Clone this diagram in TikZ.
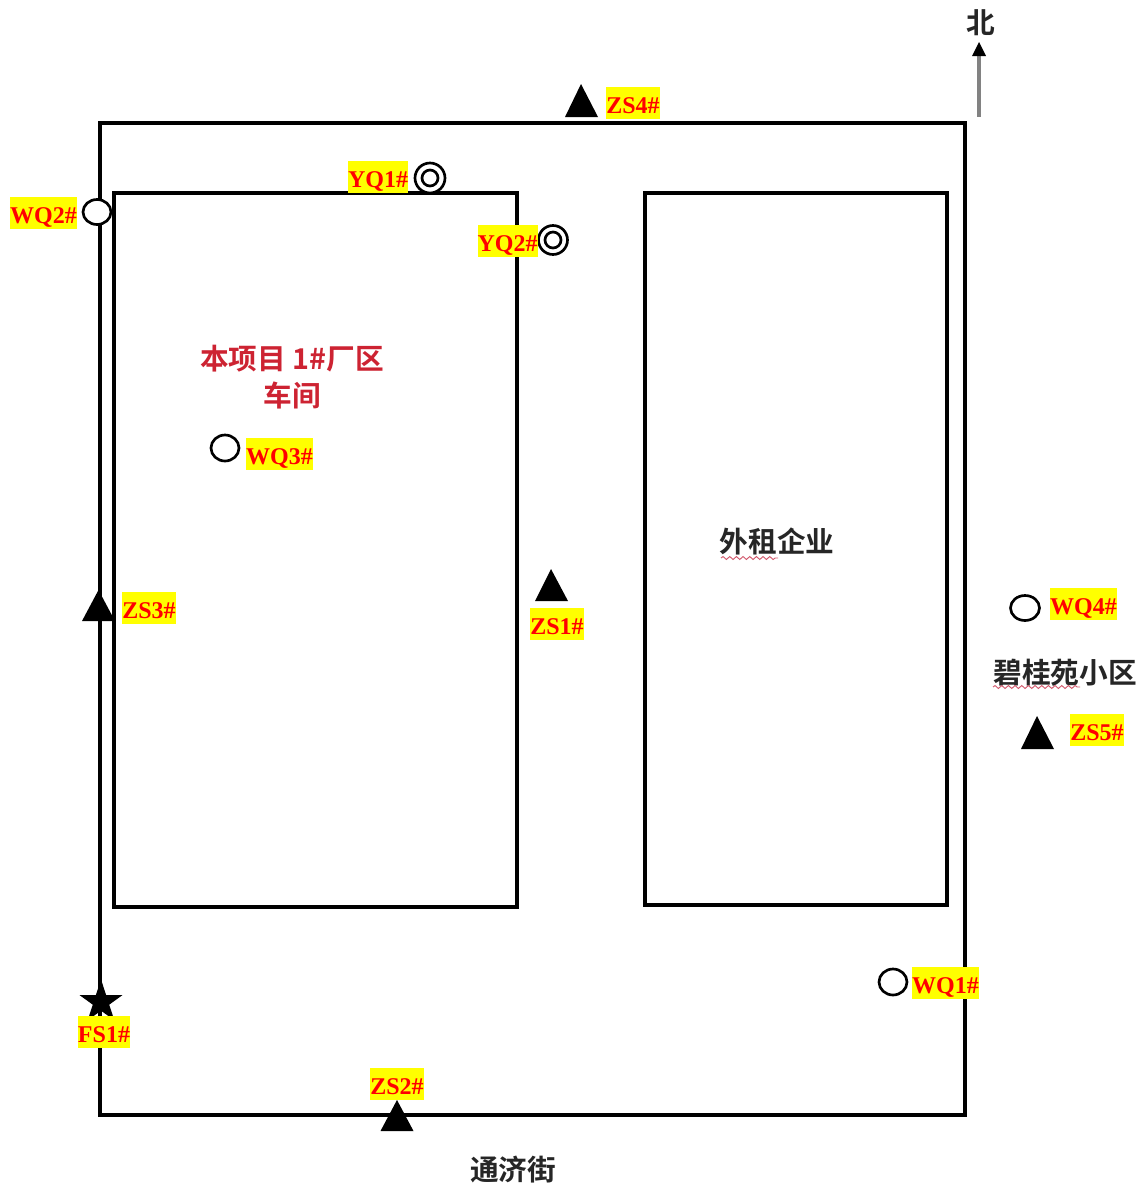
\documentclass[tikz,border=0pt]{standalone}
\usepackage{fontspec}
\setmainfont{Liberation Serif}
\newfontfamily\cjk{Noto Sans CJK SC}[BoldFont={Noto Sans CJK SC Bold}]
\usetikzlibrary{shapes.geometric,arrows.meta,decorations.pathmorphing}
\definecolor{hiyellow}{RGB}{255,255,0}
\definecolor{hired}{RGB}{255,0,0}
\definecolor{areared}{RGB}{205,35,50}
\definecolor{shaftgray}{RGB}{130,130,130}
\definecolor{squiggle}{RGB}{210,90,110}
\tikzset{
  wall/.style={draw=black,line width=3pt,fill=none},
  tag/.style={fill=hiyellow,text=hired,font=\bfseries\fontsize{18}{20}\selectfont,inner sep=0pt,minimum height=24.5pt,text height=15pt,text depth=0pt,anchor=center},
  area/.style={font=\cjk\bfseries\fontsize{21.5}{26}\selectfont,text=black!85,inner sep=0pt,align=center},
  wqmark/.style={draw=black,line width=2pt,fill=white},
  yqmark/.style={draw=black,line width=2pt,fill=white},
  tri/.style={fill=black},
  wavy/.style={draw=squiggle,line width=.7pt,decorate,decoration={snake,amplitude=1.1pt,segment length=5pt}}
}
\begin{document}
\begin{tikzpicture}[x=0.75pt,y=-0.75pt]
\useasboundingbox (0,0) rectangle (1143,1186);
\fill[white] (0,0) rectangle (1143,1186);
% walls
\draw[wall] (100,123) rectangle (965,1115);
\draw[wall] (114,193) rectangle (516.5,907);
\draw[wall] (644.5,193) rectangle (947,905);
% north arrow
\node[area] (north) at (981,23) {北};
\coordinate (nhead) at (979,42);
\fill[shaftgray] (977.4,117) rectangle (980.6,55);
\fill[tri] (nhead) -- (986,56) -- (972,56) -- cycle;
% area labels
\node[area,text=areared,font=\cjk\fontsize{21.5}{28}\selectfont\bfseries] (plant) at (292,377) {本项目 1\#厂区\\车间};
\node[area] (tenant) at (777,541) {外租企业};
\node[area] (estate) at (1065,673) {碧桂苑小区};
\node[area] (street) at (513,1170) {通济街};
\draw[wavy] (721,558) -- (778,558);
\draw[wavy] (993,687) -- (1080,687);
% circles
\draw[wqmark] (97,212) ellipse (14 and 12.5);
\draw[wqmark] (225,448) ellipse (14 and 13);
\draw[wqmark] (1025,608) ellipse (14.5 and 12.5);
\draw[wqmark] (893,982) ellipse (14 and 13);
\draw[yqmark] (430,178) circle (15);
\draw[yqmark] (430,178) circle (8);
\draw[yqmark] (553,240) circle (14.5);
\draw[yqmark] (553,240) circle (8);
% triangles
\fill[tri] (581,84) -- (598,117) -- (565,117) -- cycle;
\fill[tri] (98.5,590) -- (115,621) -- (82,621) -- cycle;
\fill[tri] (551,569) -- (568,601) -- (535,601) -- cycle;
\fill[tri] (1037,716) -- (1054,749) -- (1021,749) -- cycle;
\fill[tri] (397,1100) -- (413.5,1131) -- (380.5,1131) -- cycle;
% star
\node[star,star points=5,star point ratio=2.618,fill=black,inner sep=0pt,minimum size=34pt] (fsmark) at (101,1002) {};
% tags
\node[tag] (wq2) at (43.5,213) {WQ2\#};
\node[tag] (yq1) at (378,177) {YQ1\#};
\node[tag] (yq2) at (507.5,241) {YQ2\#};
\node[tag] (wq3) at (279.5,454) {WQ3\#};
\node[tag] (zs4) at (633,103) {ZS4\#};
\node[tag] (zs3) at (149,608) {ZS3\#};
\node[tag] (zs1) at (557,624) {ZS1\#};
\node[tag] (wq4) at (1083.5,604) {WQ4\#};
\node[tag] (zs5) at (1097,730) {ZS5\#};
\node[tag] (wq1) at (945.5,983) {WQ1\#};
\node[tag] (fs1) at (104,1032) {FS1\#};
\node[tag] (zs2) at (397,1084) {ZS2\#};
\end{tikzpicture}
\end{document}
